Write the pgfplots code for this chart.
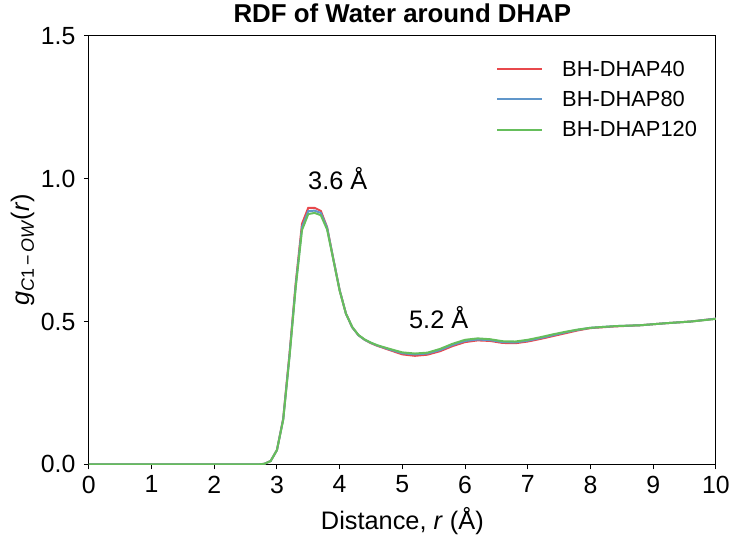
\documentclass[border=0pt]{standalone}
\usepackage{pgfplots}
\pgfplotsset{compat=1.18}
\usepackage{fontspec}
\setmainfont{Liberation Sans}

\definecolor{rdfred}{RGB}{232,72,76}
\definecolor{rdfblue}{RGB}{96,150,202}
\definecolor{rdfgreen}{RGB}{102,190,92}

% g(r) of water oxygen around C1 for three loadings
\pgfplotstableread{
r     s40    s80    s120
0.0   0.000  0.000  0.000
2.0   0.000  0.000  0.000
2.7   0.000  0.000  0.000
2.8   0.002  0.002  0.002
2.9   0.012  0.012  0.012
3.0   0.050  0.050  0.050
3.1   0.160  0.158  0.156
3.2   0.385  0.380  0.375
3.3   0.635  0.628  0.620
3.4   0.842  0.830  0.820
3.5   0.898  0.886  0.876
3.6   0.898  0.888  0.880
3.7   0.887  0.880  0.872
3.8   0.830  0.828  0.822
3.9   0.718  0.718  0.716
4.0   0.610  0.610  0.608
4.1   0.528  0.528  0.528
4.2   0.480  0.480  0.481
4.3   0.452  0.452  0.453
4.4   0.436  0.436  0.437
4.5   0.424  0.425  0.426
4.6   0.415  0.416  0.417
4.8   0.400  0.402  0.404
5.0   0.385  0.389  0.392
5.2   0.380  0.385  0.388
5.4   0.384  0.388  0.391
5.6   0.396  0.400  0.404
5.8   0.414  0.418  0.422
6.0   0.428  0.432  0.436
6.2   0.434  0.437  0.441
6.4   0.432  0.435  0.438
6.6   0.425  0.428  0.431
6.8   0.424  0.427  0.430
7.0   0.430  0.433  0.436
7.2   0.439  0.442  0.445
7.4   0.449  0.452  0.455
7.6   0.459  0.462  0.464
7.8   0.469  0.471  0.472
8.0   0.477  0.478  0.478
8.4   0.483  0.484  0.484
8.8   0.487  0.487  0.487
9.2   0.494  0.494  0.494
9.6   0.500  0.500  0.500
10.0  0.510  0.510  0.509
}\rdf

\begin{document}
\begin{tikzpicture}
\begin{axis}[
  scale only axis,
  width=629bp, height=430bp,
  xmin=0, xmax=10, ymin=0, ymax=1.5,
  xtick={0,1,...,10},
  ytick={0,0.5,1.0,1.5},
  /pgf/number format/assume math mode=true,
  tick label style={font=\fontsize{25}{28}\selectfont},
  xticklabel style={yshift=-3bp},
  yticklabel style={xshift=-5bp, /pgf/number format/.cd, fixed, fixed zerofill, precision=1},
  tick align=outside,
  xtick pos=left, ytick pos=left,
  major tick length=5bp,
  every tick/.style={black, line width=0.9bp},
  axis line style={black, line width=0.9bp},
  title={\bfseries RDF of Water around DHAP},
  title style={font=\fontsize{26}{30}\selectfont, yshift=4bp},
  xlabel={Distance, \textit{r} (Å)},
  xlabel style={font=\fontsize{25.5}{28}\selectfont, yshift=-7bp},
  ylabel={\textit{g}\raisebox{-0.35ex}{\fontsize{18}{20}\selectfont\textit{C}1\,\textminus\,\textit{OW}}(\textit{r})},
  ylabel style={font=\fontsize{25.5}{28}\selectfont, text height=26bp, yshift=-0.5bp},
  legend style={draw=none, fill=none, at={(0.645,0.951)}, anchor=north west,
    font=\fontsize{22}{25}\selectfont, row sep=9.5bp},
  legend cell align=left,
  legend image code/.code={\draw[#1, line width=2bp] (0bp,0bp) -- (45bp,0bp);
    \path (62bp,0bp);},
]
\addplot[rdfred, line width=2bp] table[x=r, y=s40] {\rdf};
\addlegendentry{BH-DHAP40}
\addplot[rdfblue, line width=2bp] table[x=r, y=s80] {\rdf};
\addlegendentry{BH-DHAP80}
\addplot[rdfgreen, line width=2bp] table[x=r, y=s120] {\rdf};
\addlegendentry{BH-DHAP120}
\node[font=\fontsize{25.5}{28}\selectfont] at (axis cs:3.97,1.0) {3.6 Å};
\node[font=\fontsize{25.5}{28}\selectfont] at (axis cs:5.58,0.515) {5.2 Å};
\end{axis}
\end{tikzpicture}
\end{document}
